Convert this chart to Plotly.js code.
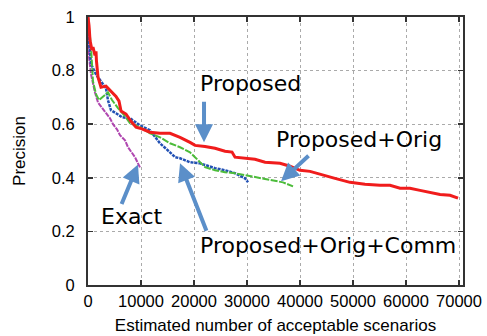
<!DOCTYPE html>
<html>
<head>
<meta charset="utf-8">
<script src="https://cdn.plot.ly/plotly-3.0.1.min.js"></script>
<style>html,body{margin:0;padding:0;background:#fff;}#chart{width:487px;height:336px;}</style>
</head>
<body>
<div id="chart"></div>
<script>
// Proposed (red)
const proposedX = [0,190,380,750,940,1320,1510,1600,1890,2450,3400,4340,5280,5850,6230,7170,8110,9060,9810,11700,13580,15470,17360,19250,20190,22080,23960,25850,27170,27740,29620,31510,33400,36230,38110,40000,41890,43770,46600,49430,52260,55090,56980,58870,60750,62640,64530,66420,68300,69810];
const proposedY = [1.0,0.969,0.913,0.876,0.888,0.857,0.872,0.835,0.775,0.738,0.742,0.723,0.704,0.686,0.649,0.638,0.611,0.589,0.585,0.570,0.566,0.566,0.551,0.532,0.521,0.517,0.510,0.499,0.496,0.477,0.473,0.469,0.458,0.454,0.443,0.428,0.424,0.413,0.398,0.383,0.376,0.372,0.372,0.361,0.361,0.353,0.346,0.338,0.335,0.324];
// Proposed+Orig (green)
const origX = [0,380,570,940,1510,2070,3020,3770,4530,5660,6980,7920,9810,11700,13580,15470,17360,19250,20190,21130,22080,23960,25850,27740,29620,31510,34340,36790,38680];
const origY = [0.999,0.932,0.888,0.760,0.712,0.690,0.708,0.719,0.690,0.660,0.630,0.604,0.589,0.566,0.551,0.529,0.514,0.495,0.477,0.458,0.440,0.428,0.421,0.417,0.410,0.402,0.391,0.383,0.368];
// Proposed+Orig+Comm (blue)
const commX = [0,190,570,1510,2450,3400,3770,4340,5280,6420,7920,9810,11700,12640,13580,15470,16420,17360,19250,21130,22080,23960,25850,27740,29620,30190];
const commY = [1.0,0.910,0.824,0.786,0.760,0.734,0.689,0.652,0.641,0.626,0.622,0.596,0.577,0.551,0.529,0.495,0.477,0.473,0.458,0.454,0.447,0.436,0.428,0.417,0.398,0.383];
// Exact (magenta)
const exactX = [0,190,570,940,1320,1890,2640,3400,4150,4720,5470,6040,6980,7550,8300,8870,9430,9810];
const exactY = [0.988,0.850,0.786,0.752,0.718,0.681,0.662,0.644,0.622,0.600,0.581,0.559,0.540,0.514,0.495,0.477,0.454,0.439];

const xTicks = [0,10000,20000,30000,40000,50000,60000,70000];
const yTicks = [0,0.2,0.4,0.6,0.8,1];

const labelFont = {family: 'DejaVu Sans, sans-serif', size: 22, color: '#000'};
const arrowColor = '#5b8fc9';

const traces = [
  {x: exactX, y: exactY, mode: 'lines', line: {color: '#b047b0', width: 2, dash: '5px,1px'}, name: 'Exact'},
  {x: commX, y: commY, mode: 'lines', line: {color: '#2150b4', width: 2.5, dash: '3px,1px'}, name: 'Proposed+Orig+Comm'},
  {x: origX, y: origY, mode: 'lines', line: {color: '#4cbc3a', width: 2, dash: '7px,1.5px'}, name: 'Proposed+Orig'},
  {x: proposedX, y: proposedY, mode: 'lines', line: {color: '#f01c1c', width: 3}, name: 'Proposed'}
];

function arrow(x, y, ax, ay) {
  return {x: x, y: y, xref: 'x', yref: 'y', ax: ax, ay: ay, text: '', showarrow: true,
    arrowhead: 2, arrowsize: 0.9, arrowwidth: 4, arrowcolor: arrowColor};
}

const layout = {
  width: 487, height: 336,
  margin: {l: 88, r: 24, t: 17, b: 51},
  paper_bgcolor: '#fff', plot_bgcolor: '#fff',
  showlegend: false,
  font: {family: 'Liberation Sans, Arial, sans-serif', size: 16.5, color: '#000'},
  xaxis: {
    range: [0, 70750], tickvals: xTicks, ticktext: xTicks.map(String),
    showgrid: true, gridcolor: '#aaa', griddash: 'dot', gridwidth: 1,
    zeroline: false, showline: true, linecolor: '#333', linewidth: 2, mirror: 'ticks',
    ticks: 'inside', ticklen: 5, tickcolor: '#333', tickwidth: 1.5,
    tickfont: {size: 16.5},
    title: {text: 'Estimated number of acceptable scenarios', font: {size: 17}, standoff: 10}
  },
  yaxis: {
    range: [0, 1], tickvals: yTicks,
    showgrid: true, gridcolor: '#aaa', griddash: 'dot', gridwidth: 1,
    zeroline: false, showline: true, linecolor: '#333', linewidth: 2, mirror: 'ticks',
    ticks: 'inside', ticklen: 5, tickcolor: '#333', tickwidth: 1.5,
    tickfont: {size: 16.5}, ticklabelstandoff: 8,
    title: {text: 'Precision', font: {size: 17}, standoff: 22}
  },
  annotations: [
    {x: 30750, y: 0.753, xref: 'x', yref: 'y', text: 'Proposed', showarrow: false, font: labelFont, xanchor: 'center', yanchor: 'middle'},
    {x: 51040, y: 0.544, xref: 'x', yref: 'y', text: 'Proposed+Orig', showarrow: false, font: labelFont, xanchor: 'center', yanchor: 'middle'},
    {x: 8210, y: 0.255, xref: 'x', yref: 'y', text: 'Exact', showarrow: false, font: labelFont, xanchor: 'center', yanchor: 'middle'},
    {x: 45190, y: 0.148, xref: 'x', yref: 'y', text: 'Proposed+Orig+Comm', showarrow: false, font: labelFont, xanchor: 'center', yanchor: 'middle'},
    arrow(21890, 0.533, 0, -42),
    arrow(36420, 0.387, 29, -27),
    arrow(9430, 0.450, -17, 41),
    arrow(17360, 0.454, 27, 69)
  ]
};

Plotly.newPlot('chart', traces, layout, {staticPlot: true, displayModeBar: false});
</script>
</body>
</html>
